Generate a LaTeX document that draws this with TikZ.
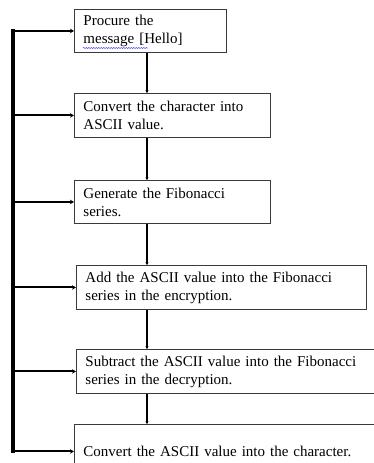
\documentclass[tikz,border=0pt]{standalone}
\usepackage{fontspec}
\setmainfont{Liberation Serif}[WordSpace=0.7]
\usetikzlibrary{arrows.meta,decorations.pathmorphing}
\definecolor{boxgray}{HTML}{3A3A3A}
\begin{document}
\begin{tikzpicture}[x=1pt,y=-1pt,
  stepbox/.style={draw=boxgray, line width=0.9pt, rectangle, anchor=north west,
    align=left, inner xsep=9pt, inner ysep=0pt,
    font=\fontsize{15}{18}\selectfont},
  flowline/.style={line width=1.5pt, -{Stealth[length=2.5pt,width=3pt]}},
  busline/.style={line width=3.5pt, line cap=rect},
  branch/.style={line width=2pt, -{Stealth[length=4pt,width=4.5pt]}},
  spell/.style={draw=blue!75, line width=0.5pt, decorate,
    decoration={snake, amplitude=0.6pt, segment length=2.5pt}}]
  \fill[white] (0,0) rectangle (373,463);
  \useasboundingbox (0,0) rectangle (373,463);

  % process steps
  \node[stepbox, minimum width=152pt, minimum height=43pt, text width=134pt] (b1) at (74,9)
    {Procure the\\ message [Hello]};
  \node[stepbox, minimum width=196pt, minimum height=44pt, text width=178pt] (b2) at (74,93)
    {Convert the character into\\ ASCII value.};
  \node[stepbox, minimum width=196pt, minimum height=43pt, text width=178pt] (b3) at (74,180)
    {Generate the Fibonacci\\ series.};
  \node[stepbox, minimum width=290pt, minimum height=44pt, text width=272pt] (b4) at (76,265)
    {Add the ASCII value into the Fibonacci\\ series in the encryption.};
  \node[stepbox, minimum width=310pt, minimum height=44pt, text width=292pt] (b5) at (76,349)
    {Subtract the ASCII value into the Fibonacci\\ series in the decryption.};
  \node[stepbox, minimum width=310pt, minimum height=54pt, text width=292pt] (b6) at (74,424)
    {Convert the ASCII value into the character.};

  % spell-check underline
  \coordinate (u1) at (83,48);
  \coordinate (u2) at (148,48);
  \draw[spell] (u1) -- (u2);

  % main flow
  \coordinate (vx) at (147,0);
  \draw[flowline] (b1.south -| vx) -- (b2.north -| vx);
  \draw[flowline] (b2.south -| vx) -- (b3.north -| vx);
  \draw[flowline] (b3.south -| vx) -- (b4.north -| vx);
  \draw[flowline] (b4.south -| vx) -- (b5.north -| vx);
  \draw[flowline] (b5.south -| vx) -- (b6.north -| vx);

  % side bus feeding every step
  \coordinate (bx) at (13,0);
  \draw[busline] (b1.west -| bx) -- (b6.west -| bx);
  \foreach \b in {b1,b2,b3,b4,b5,b6}
    \draw[branch] (\b.west -| bx) -- (\b.west);
\end{tikzpicture}
\end{document}
